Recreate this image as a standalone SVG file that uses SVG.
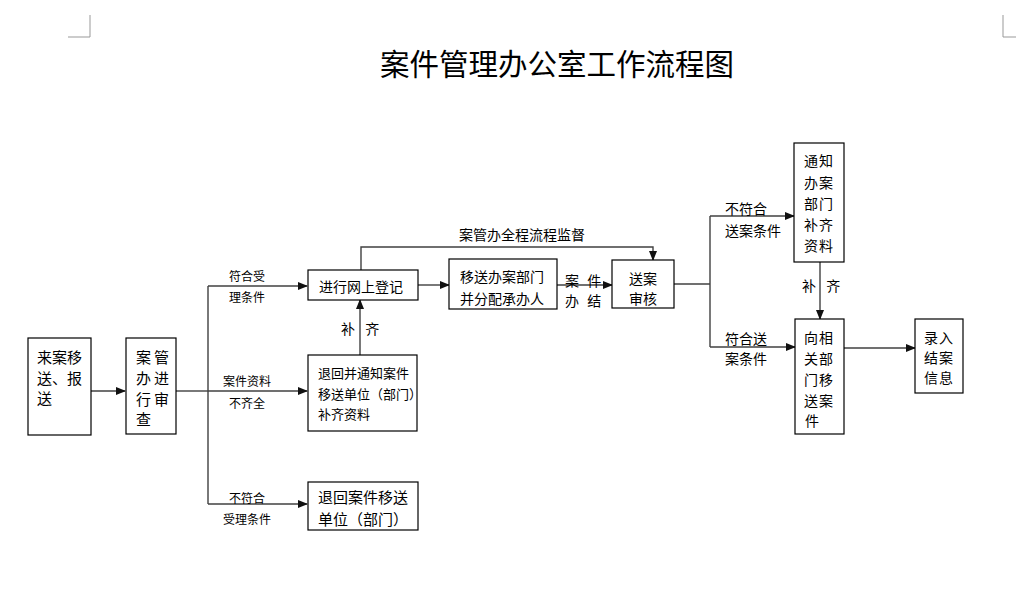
<svg xmlns="http://www.w3.org/2000/svg" width="1016" height="598" viewBox="0 0 1016 598">
<style>
text{font-family:"Noto Sans CJK SC","Noto Sans",sans-serif;fill:#000;dominant-baseline:central}
.box{fill:#fff;stroke:#000;stroke-width:1.2}
.ln{fill:none;stroke:#404040;stroke-width:1.4}
.arr{fill:none;stroke:#404040;stroke-width:1.4;marker-end:url(#ah)}
.t15{font-size:15px}
.t14{font-size:14px}
.t13{font-size:13px}
.t12{font-size:12px}
.mid{text-anchor:middle}
.crop{stroke:#999;stroke-width:1;fill:none}
</style>
<defs>
<marker id="ah" markerWidth="10" markerHeight="8" refX="9" refY="4" orient="auto" markerUnits="userSpaceOnUse">
<path d="M0,0 L10,4 L0,8 Z" fill="#111"/>
</marker>
</defs>
<rect width="1016" height="598" fill="#fff"/>
<g id="cropmarks">
<path class="crop" d="M90,15 V37 H68"/>
<path class="crop" d="M1003,15 V37 H1016"/>
</g>
<text id="title" x="557" y="62" font-size="29.5" text-anchor="middle">案件管理办公室工作流程图</text>

<g id="connectors">
<path class="arr" d="M91,391 H125"/>
<path class="ln" d="M176,391 H208"/>
<path class="ln" d="M208,286 V504"/>
<path class="arr" d="M208,286 H307"/>
<path class="arr" d="M208,391 H307"/>
<path class="arr" d="M208,504 H307"/>
<path class="arr" d="M360,355 V300"/>
<path class="arr" d="M418,285 H449"/>
<path class="arr" d="M557,285 H612"/>
<path class="arr" d="M361,270 V247 H653 V260"/>
<path class="ln" d="M674,284 H710"/>
<path class="ln" d="M710,216 V347"/>
<path class="arr" d="M710,216 H794"/>
<path class="arr" d="M710,347 H795"/>
<path class="arr" d="M820,262 V319"/>
<path class="arr" d="M844,348 H915"/>
<text class="t12 mid" x="247" y="275">符合受</text>
<text class="t12 mid" x="247" y="296">理条件</text>
<text class="t12 mid" x="247" y="380">案件资料</text>
<text class="t12 mid" x="247" y="402">不齐全</text>
<text class="t12 mid" x="247" y="497">不符合</text>
<text class="t12 mid" x="247" y="518">受理条件</text>
<text class="t14" x="341" y="328" word-spacing="7">补 齐</text>
<text class="t14 mid" x="522" y="234">案管办全程流程监督</text>
<text class="t14" x="565" y="280" word-spacing="5">案 件</text>
<text class="t14" x="565" y="300" word-spacing="5">办 结</text>
<text class="t14" x="725" y="208">不符合</text>
<text class="t14" x="725" y="230">送案条件</text>
<text class="t14" x="725" y="338">符合送</text>
<text class="t14" x="725" y="358">案条件</text>
<text class="t14" x="802" y="285" word-spacing="7">补 齐</text>
</g>

<g id="n1">
<rect class="box" x="28" y="338" width="63" height="97"/>
<text class="t15" x="37" y="356">来案移</text>
<text class="t15" x="37" y="377">送、报</text>
<text class="t15" x="37" y="397">送</text>
</g>
<g id="n2">
<rect class="box" x="126" y="338" width="50" height="96"/>
<text class="t15" x="136" y="356" letter-spacing="3">案管</text>
<text class="t15" x="136" y="377" letter-spacing="3">办进</text>
<text class="t15" x="136" y="398" letter-spacing="3">行审</text>
<text class="t15" x="136" y="418">查</text>
</g>
<g id="n3">
<rect class="box" x="308" y="270" width="110" height="30"/>
<text class="t14 mid" x="361" y="286">进行网上登记</text>
</g>
<g id="n4">
<rect class="box" x="308" y="355" width="109" height="76"/>
<text class="t13" x="318" y="372">退回并通知案件</text>
<text class="t13" x="318" y="393">移送单位（部门）</text>
<text class="t13" x="318" y="413">补齐资料</text>
</g>
<g id="n5">
<rect class="box" x="308" y="482" width="110" height="48"/>
<text class="t15" x="318" y="496">退回案件移送</text>
<text class="t15" x="318" y="518">单位（部门）</text>
</g>
<g id="n6">
<rect class="box" x="449" y="259" width="108" height="50"/>
<text class="t14 mid" x="502" y="276">移送办案部门</text>
<text class="t14 mid" x="502" y="298">并分配承办人</text>
</g>
<g id="n7">
<rect class="box" x="612" y="260" width="62" height="48"/>
<text class="t14 mid" x="643" y="278">送案</text>
<text class="t14 mid" x="643" y="298">审核</text>
</g>
<g id="n8">
<rect class="box" x="794" y="143" width="50" height="119"/>
<text class="t14 mid" x="819" y="160" letter-spacing="1">通知</text>
<text class="t14 mid" x="819" y="182" letter-spacing="1">办案</text>
<text class="t14 mid" x="819" y="203" letter-spacing="1">部门</text>
<text class="t14 mid" x="819" y="224" letter-spacing="1">补齐</text>
<text class="t14 mid" x="819" y="245" letter-spacing="1">资料</text>
</g>
<g id="n9">
<rect class="box" x="795" y="319" width="49" height="115"/>
<text class="t14 mid" x="819" y="337" letter-spacing="1">向相</text>
<text class="t14 mid" x="819" y="358" letter-spacing="1">关部</text>
<text class="t14 mid" x="819" y="379" letter-spacing="1">门移</text>
<text class="t14 mid" x="819" y="400" letter-spacing="1">送案</text>
<text class="t14" x="805" y="420">件</text>
</g>
<g id="n10">
<rect class="box" x="915" y="319" width="48" height="74"/>
<text class="t14 mid" x="939" y="337" letter-spacing="1">录入</text>
<text class="t14 mid" x="939" y="357" letter-spacing="1">结案</text>
<text class="t14 mid" x="939" y="377" letter-spacing="1">信息</text>
</g>
</svg>
